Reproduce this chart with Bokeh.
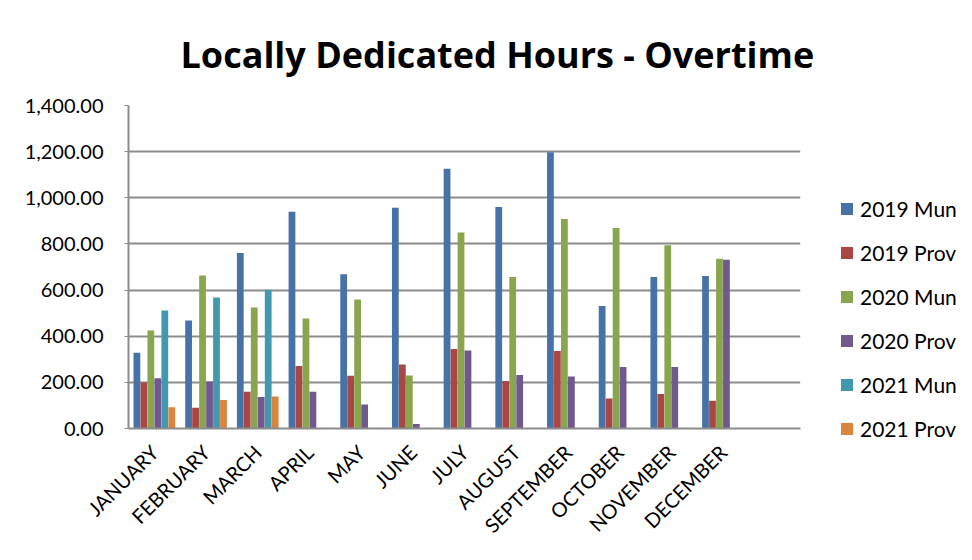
from bokeh.plotting import figure
from bokeh.models import (ColumnDataSource, FactorRange, Range1d, FixedTicker,
                          NumeralTickFormatter, Legend, LegendItem)
from bokeh.transform import dodge
from bokeh.embed import file_html
from bokeh.resources import INLINE
import math

months = ["JANUARY", "FEBRUARY", "MARCH", "APRIL", "MAY", "JUNE", "JULY",
          "AUGUST", "SEPTEMBER", "OCTOBER", "NOVEMBER", "DECEMBER"]
mun_2019 = [328, 468, 761, 939, 669, 957, 1126, 960, 1197, 531, 657, 661]
prov_2019 = [199, 90, 159, 271, 229, 277, 345, 206, 336, 130, 150, 120]
mun_2020 = [425, 663, 524, 477, 559, 230, 849, 657, 908, 869, 794, 736]
prov_2020 = [218, 204, 136, 159, 104, 19, 338, 232, 225, 267, 267, 731]
mun_2021 = [511, 568, 601]
prov_2021 = [92, 123, 139]
series_names = ["2019 Mun", "2019 Prov", "2020 Mun", "2020 Prov", "2021 Mun", "2021 Prov"]
series_values = [mun_2019, prov_2019, mun_2020, prov_2020, mun_2021, prov_2021]
colors = ["#4672a8", "#aa4643", "#89a54e", "#71588f", "#4198af", "#db843d"]
y_ticks = [0, 200, 400, 600, 800, 1000, 1200, 1400]

FONT = "Lato"
factors = months + [" "]

p = figure(frame_width=672, frame_height=323, output_backend="svg", toolbar_location=None,
           x_range=FactorRange(factors=factors, range_padding=0, factor_padding=0),
           y_range=Range1d(0, 1400),
           min_border_left=128, min_border_right=164, min_border_top=105,
           min_border_bottom=124)
p.outline_line_color = None
p.background_fill_color = "white"
p.border_fill_color = "white"

bar_w = 0.135
items = []
for i, (name, vals, col) in enumerate(zip(series_names, series_values, colors)):
    src = ColumnDataSource(dict(month=months[:len(vals)], v=vals))
    r = p.vbar(x=dodge("month", (i - 2.5) * bar_w, range=p.x_range), top="v",
               width=bar_w * 0.97, source=src, fill_color=col, line_color=None)
    items.append(LegendItem(label=name, renderers=[r]))

legend = Legend(items=items, location=(39, -13), orientation="vertical",
                label_text_font=FONT, label_text_font_size="21px",
                label_text_color="black", glyph_width=15, glyph_height=15,
                label_height=24, spacing=19, label_standoff=6, padding=0,
                margin=0, border_line_color=None, background_fill_alpha=0)
p.add_layout(legend, "right")

p.title.text = "Locally Dedicated Hours - Overtime"
p.title.text_font = "Open Sans"
p.title.text_font_size = "36px"
p.title.text_font_style = "bold"
p.title.align = "left"
p.title.offset = 52
p.title.standoff = 54
p.title.text_color = "black"

p.yaxis.ticker = FixedTicker(ticks=y_ticks)
p.yaxis.formatter = NumeralTickFormatter(format="0,0.00")
p.yaxis.major_label_text_font = FONT
p.yaxis.major_label_text_font_size = "20px"
p.yaxis.major_label_text_color = "black"
p.yaxis.axis_line_color = "#8c8c8c"
p.yaxis.axis_line_width = 2
p.yaxis.major_tick_out = 4
p.yaxis.major_tick_in = 0
p.yaxis.major_tick_line_color = "#8c8c8c"
p.yaxis.minor_tick_line_color = None
p.yaxis.major_label_standoff = 21

p.xaxis.major_label_orientation = math.pi / 4
p.xaxis.major_label_text_font = FONT
p.xaxis.major_label_text_font_size = "20px"
p.xaxis.major_label_text_color = "black"
p.xaxis.axis_line_color = "#8c8c8c"
p.xaxis.axis_line_width = 2
p.xaxis.major_tick_line_color = None
p.xaxis.minor_tick_line_color = None
p.xaxis.major_label_standoff = 14

p.xgrid.grid_line_color = None
p.ygrid.grid_line_color = "#8c8c8c"
p.ygrid.grid_line_width = 2
p.ygrid.ticker = FixedTicker(ticks=y_ticks)

open("out.html", "w").write(file_html(p, INLINE))
